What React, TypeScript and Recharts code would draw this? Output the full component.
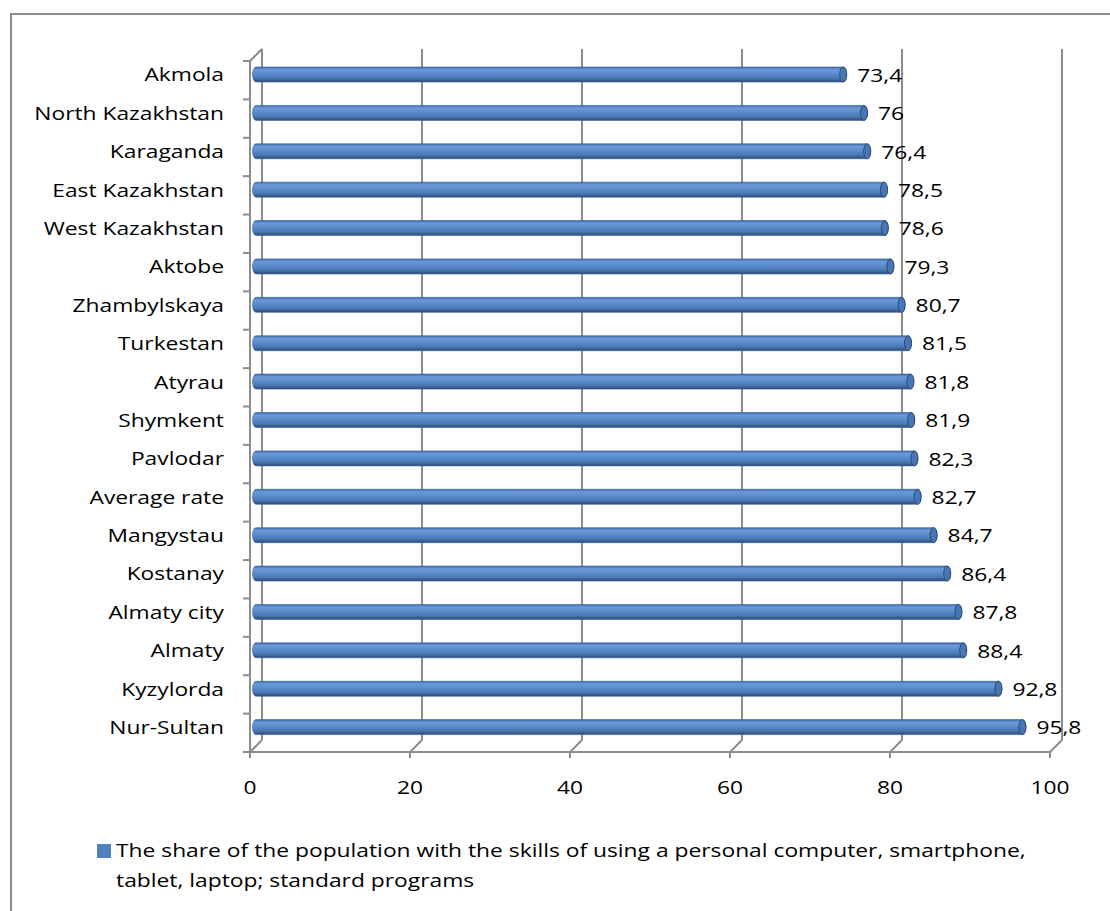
import React from 'react';
import { BarChart, Bar, XAxis, YAxis, CartesianGrid, LabelList, Legend } from 'recharts';

const regions = [
  'Akmola',
  'North Kazakhstan',
  'Karaganda',
  'East Kazakhstan',
  'West Kazakhstan',
  'Aktobe',
  'Zhambylskaya',
  'Turkestan',
  'Atyrau',
  'Shymkent',
  'Pavlodar',
  'Average rate',
  'Mangystau',
  'Kostanay',
  'Almaty city',
  'Almaty',
  'Kyzylorda',
  'Nur-Sultan'
];
const shares = [73.4, 76, 76.4, 78.5, 78.6, 79.3, 80.7, 81.5, 81.8, 81.9, 82.3, 82.7, 84.7, 86.4, 87.8, 88.4, 92.8, 95.8];
const xTicks = [0, 20, 40, 60, 80, 100];
const seriesName =
  'The share of the population with the skills of using a personal computer, smartphone,\ntablet, laptop; standard programs';

const data = regions.map((region, i) => ({ region, share: shares[i] }));

const W = 1110;
const H = 911;
const FONT = '"Open Sans", sans-serif';
const FS = 19;
const SX = 1.2; // the reference text is drawn wide
const GRID = '#8c8c8c';
const DEPTH = 6;

const Y_WIDTH = 200;
const MARGIN = { top: 55, right: 54, bottom: 105, left: 56 };
const X_HEIGHT = 60;
const PLOT_TOP = MARGIN.top;
const PLOT_BOTTOM = H - MARGIN.bottom - X_HEIGHT;
const PLOT_LEFT = MARGIN.left + Y_WIDTH;
const BAND = (PLOT_BOTTOM - PLOT_TOP) / regions.length;
const WALL_X = PLOT_LEFT - DEPTH;

const WideText = ({ x, y, anchor, children }: any) => (
  <text
    transform={`translate(${x},${y}) scale(${SX},1)`}
    x={0}
    y={0}
    textAnchor={anchor}
    dominantBaseline="central"
    fontFamily={FONT}
    fontSize={FS}
    fill="#000"
  >
    {children}
  </text>
);

const XTick = (props: any) => {
  const { x, payload } = props;
  const fx = x - DEPTH;
  const bx = x + DEPTH;
  return (
    <g>
      <line x1={bx} y1={PLOT_BOTTOM - DEPTH} x2={fx} y2={PLOT_BOTTOM + DEPTH} stroke={GRID} strokeWidth={2} />
      <line x1={fx} y1={PLOT_BOTTOM + DEPTH} x2={fx} y2={PLOT_BOTTOM + DEPTH + 6} stroke={GRID} strokeWidth={2} />
      <WideText x={fx} y={787} anchor="middle">
        {payload.value}
      </WideText>
    </g>
  );
};

const YTick = (props: any) => {
  const { y, payload, index, visibleTicksCount } = props;
  const top = y + DEPTH - BAND / 2;
  const bottom = y + DEPTH + BAND / 2;
  return (
    <g>
      <line x1={WALL_X} y1={top} x2={WALL_X} y2={bottom} stroke={GRID} strokeWidth={2} />
      <line x1={WALL_X - 7} y1={top} x2={WALL_X} y2={top} stroke={GRID} strokeWidth={2} />
      {index === visibleTicksCount - 1 && (
        <line x1={WALL_X - 7} y1={bottom} x2={WALL_X} y2={bottom} stroke={GRID} strokeWidth={2} />
      )}
      {index === 0 && (
        <line x1={WALL_X} y1={top} x2={PLOT_LEFT + DEPTH} y2={PLOT_TOP - DEPTH} stroke={GRID} strokeWidth={2} />
      )}
      <WideText x={224} y={y} anchor="end">
        {payload.value}
      </WideText>
    </g>
  );
};

const BackLine = (props: any) => {
  const { x1, key } = props;
  return (
    <line
      key={key}
      x1={x1 + DEPTH}
      y1={PLOT_TOP - DEPTH}
      x2={x1 + DEPTH}
      y2={PLOT_BOTTOM - DEPTH}
      stroke={GRID}
      strokeWidth={2}
    />
  );
};

const Cylinder = (props: any) => {
  const { x, y, width, height, index } = props;
  const r = height / 2;
  const rx = 3.5;
  const d = `M${x},${y} H${x + width} A${rx},${r} 0 0 1 ${x + width},${y + height} H${x} A${rx},${r} 0 0 1 ${x},${y} Z`;
  return (
    <g>
      {index === 0 && (
        <defs>
          <linearGradient id="cylBody" x1="0" y1="0" x2="0" y2="1">
            <stop offset="0%" stopColor="#3e6aa3" />
            <stop offset="18%" stopColor="#6b9bd9" />
            <stop offset="45%" stopColor="#5a8bcb" />
            <stop offset="75%" stopColor="#4a78b2" />
            <stop offset="100%" stopColor="#2a4a78" />
          </linearGradient>
        </defs>
      )}
      <path d={d} fill="url(#cylBody)" stroke="#3b6296" strokeWidth={0.6} />
      <ellipse cx={x + width} cy={y + r} rx={rx} ry={r} fill="#4776b2" stroke="#2a4a78" strokeWidth={1} />
    </g>
  );
};

const ValueLabel = (props: any) => {
  const { x, y, width, height, value } = props;
  return (
    <WideText x={x + width + 14} y={y + height / 2} anchor="start">
      {String(value).replace('.', ',')}
    </WideText>
  );
};

const renderLegend = (props: any) => {
  const entry = props.payload && props.payload[0];
  return (
    <div style={{ display: 'flex', alignItems: 'flex-start', fontFamily: FONT, fontSize: FS, color: '#000' }}>
      <span
        style={{ display: 'inline-block', width: 14, height: 14, background: '#4f81bd', marginTop: 9, marginRight: 5, flex: 'none' }}
      />
      <span
        style={{
          whiteSpace: 'pre-line',
          lineHeight: '30px',
          transform: `scaleX(${SX})`,
          transformOrigin: 'left top',
          display: 'inline-block'
        }}
      >
        {entry ? entry.value : seriesName}
      </span>
    </div>
  );
};

const App: React.FC = () => {
  return (
    <div style={{ position: 'fixed', left: 0, top: 0, width: W, height: H, overflow: 'hidden', background: '#fff' }}>
      <div
        style={{
          position: 'absolute',
          left: 10,
          top: 13,
          width: W,
          height: H,
          borderLeft: '2px solid #8c8c8c',
          borderTop: '2px solid #8c8c8c'
        }}
      />
      <div style={{ position: 'absolute', left: 0, top: 0 }}>
        <BarChart width={W} height={H} data={data} layout="vertical" margin={MARGIN} barSize={15}>
          <CartesianGrid horizontal={false} vertical={BackLine} stroke={GRID} />
          <XAxis
            type="number"
            dataKey="share"
            domain={[0, 100]}
            ticks={xTicks}
            height={X_HEIGHT}
            tickLine={false}
            axisLine={{ stroke: GRID, strokeWidth: 2, transform: `translate(${-DEPTH},${DEPTH})` }}
            tick={XTick}
            interval={0}
          />
          <YAxis
            type="category"
            dataKey="region"
            width={Y_WIDTH}
            axisLine={false}
            tickLine={false}
            tick={YTick}
            interval={0}
          />
          <Legend
            layout="horizontal"
            verticalAlign="middle"
            align="center"
            content={renderLegend}
            wrapperStyle={{ left: 97, top: 835, width: 1000 }}
          />
          <Bar dataKey="share" name={seriesName} fill="#4f81bd" shape={Cylinder} isAnimationActive={false}>
            <LabelList dataKey="share" content={ValueLabel} />
          </Bar>
        </BarChart>
      </div>
    </div>
  );
};

export default App;
